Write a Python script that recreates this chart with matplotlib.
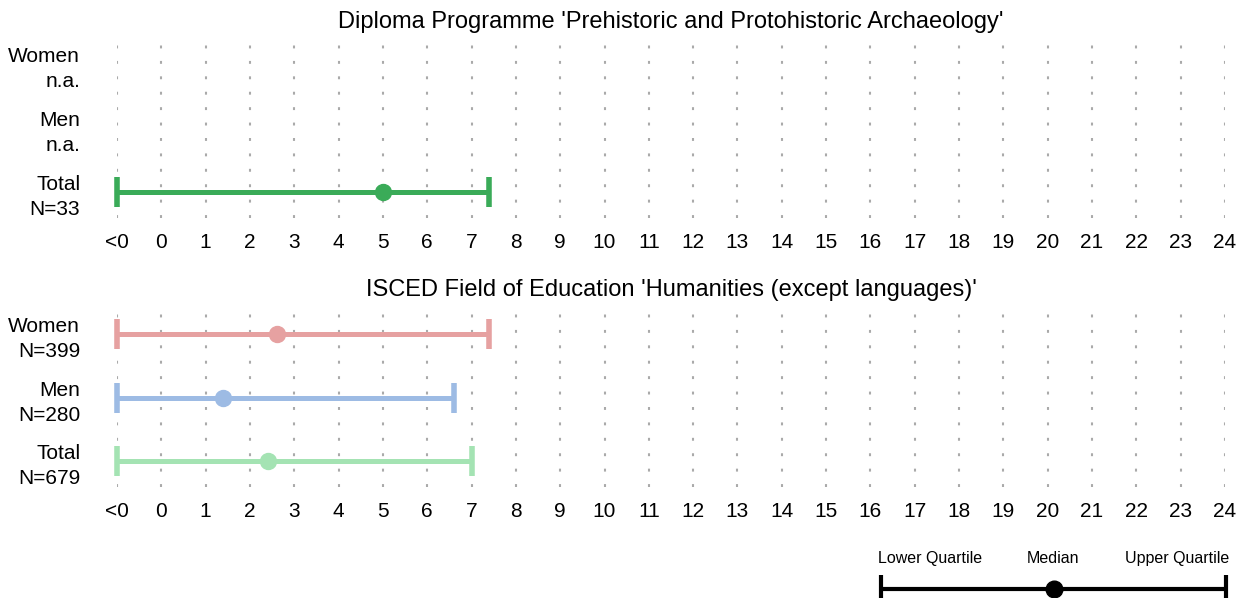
import numpy as np
import matplotlib.pyplot as plt

# ticks: -1 stands for "<0"
tick_vals = list(range(-1, 25))
tick_labels = ['<0'] + [str(i) for i in range(0, 25)]

# panel 1: Diploma programme
title1 = "Diploma Programme 'Prehistoric and Protohistoric Archaeology'"
groups1 = ['Women', 'Men', 'Total']
n1 = ['n.a.', 'n.a.', 'N=33']
lower1 = [None, None, -1]
median1 = [None, None, 5.0]
upper1 = [None, None, 7.4]
colors1 = ['#e6a1a1', '#9dbbe4', '#3aab58']

# panel 2: ISCED field
title2 = "ISCED Field of Education 'Humanities (except languages)'"
groups2 = ['Women', 'Men', 'Total']
n2 = ['N=399', 'N=280', 'N=679']
lower2 = [-1, -1, -1]
median2 = [2.6, 1.4, 2.4]
upper2 = [7.4, 6.6, 7.0]
colors2 = ['#e6a1a1', '#9dbbe4', '#a4e3b3']

W, H = 1248, 598
fig = plt.figure(figsize=(W / 100, H / 100), dpi=100)
plt.rcParams['font.family'] = 'Liberation Sans'


def px_axes(left, top, right, bottom):
    return fig.add_axes([left / W, 1 - bottom / H, (right - left) / W, (bottom - top) / H])


def panel(ax, title, title_y, groups, ns, lows, meds, ups, colors):
    ax.set_xlim(-1, 24)
    ax.set_ylim(-0.41, 2.38)
    for v in tick_vals:
        ax.axvline(v, color='#aaaaaa', lw=1.5, linestyle=(0, (1.4, 6.0)), zorder=0)
    for i, g in enumerate(groups):
        y = 2 - i
        if meds[i] is None:
            continue
        c = colors[i]
        ax.plot([lows[i], ups[i]], [y, y], color=c, lw=3.6, solid_capstyle='butt', clip_on=False)
        ax.plot([lows[i], ups[i]], [y, y], ls='none', marker='|', ms=22, mew=4, color=c, clip_on=False)
        ax.plot([meds[i]], [y], ls='none', marker='o', ms=11.5, color=c, clip_on=False)
    ax.set_yticks([2, 1, 0])
    ax.set_yticklabels([g + '\n' + n for g, n in zip(groups, ns)], fontsize=15, linespacing=1.4)
    ax.set_xticks(tick_vals)
    ax.set_xticklabels(tick_labels, fontsize=15)
    ax.tick_params(length=0, axis='y', pad=26.5)
    ax.tick_params(length=0, axis='x', pad=11)
    for s in ax.spines.values():
        s.set_visible(False)
    ax.text(0.5, title_y, title, transform=ax.transAxes, ha='center', va='center', fontsize=17)


ax1 = px_axes(117, 40, 1225, 218)
panel(ax1, title1, 1.10, groups1, n1, lower1, median1, upper1, colors1)
ax2 = px_axes(117, 310, 1225, 487)
panel(ax2, title2, 1.112, groups2, n2, lower2, median2, upper2, colors2)

# legend key
leg = px_axes(881, 545, 1226, 598)
leg.set_xlim(0, 1)
leg.set_ylim(0, 1)
leg.axis('off')
ly = 0.17
leg.plot([0, 1], [ly, ly], color='black', lw=3, solid_capstyle='butt', clip_on=False)
leg.plot([0, 1], [ly, ly], ls='none', marker='|', ms=20, mew=3, color='black', clip_on=False)
leg.plot([0.5], [ly], ls='none', marker='o', ms=12, color='black', clip_on=False)
leg.text(-0.01, 0.75, 'Lower Quartile', ha='left', va='center', fontsize=11.5)
leg.text(0.5, 0.75, 'Median', ha='center', va='center', fontsize=11.5)
leg.text(1.01, 0.75, 'Upper Quartile', ha='right', va='center', fontsize=11.5)

fig.savefig('out.png', dpi=100)
